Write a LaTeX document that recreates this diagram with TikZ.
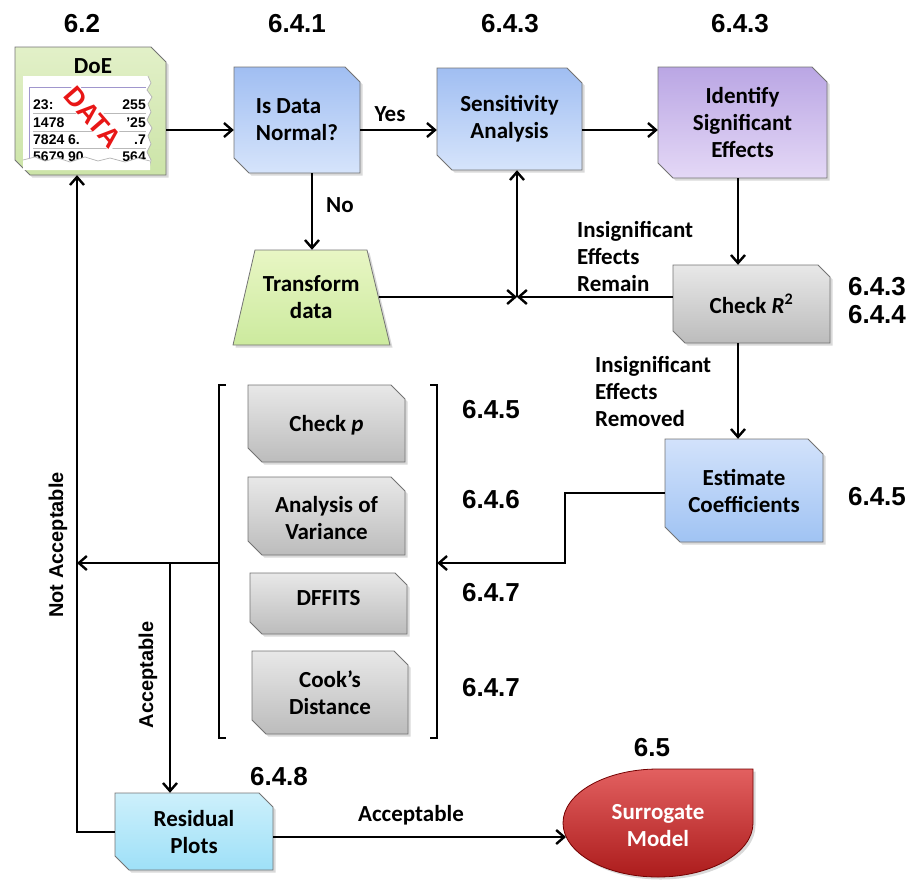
\documentclass[tikz,border=0pt]{standalone}
\usepackage{fontspec}
\setmainfont{Carlito}
\newfontfamily\numfont{Liberation Sans}
\usetikzlibrary{arrows.meta,shadows,calc}

\definecolor{bluetop}{RGB}{160,190,242}
\definecolor{bluebot}{RGB}{214,228,251}
\definecolor{esttop}{RGB}{210,226,251}
\definecolor{estbot}{RGB}{160,195,243}
\definecolor{purtop}{RGB}{186,166,228}
\definecolor{purbot}{RGB}{228,216,246}
\definecolor{graytop}{RGB}{232,232,232}
\definecolor{graybot}{RGB}{188,188,188}
\definecolor{cyantop}{RGB}{205,240,251}
\definecolor{cyanbot}{RGB}{158,224,248}
\definecolor{greentop}{RGB}{232,246,196}
\definecolor{greenbot}{RGB}{204,234,158}
\definecolor{doetop}{RGB}{226,240,200}
\definecolor{doebot}{RGB}{204,228,168}
\definecolor{surrtop}{RGB}{226,96,96}
\definecolor{surrbot}{RGB}{172,28,28}
\definecolor{datared}{RGB}{232,22,22}
\definecolor{lav}{RGB}{160,150,205}

\tikzset{
  lbl/.style={font=\fontsize{23}{27}\selectfont\bfseries, inner sep=0pt},
  num/.style={font=\numfont\fontsize{26}{30}\selectfont\bfseries, inner sep=0pt},
  side/.style={font=\numfont\fontsize{20}{24}\selectfont\bfseries, inner sep=0pt},
  cell/.style={font=\numfont\fontsize{14}{16}\selectfont\bfseries, inner sep=0pt},
  stamp/.style={font=\numfont\fontsize{27}{27}\selectfont\bfseries, inner sep=1pt, rotate=-49,
    fill=white, text=datared},
  boxtxt/.style={lbl, align=center},
  wire/.style={line width=2.4pt, line join=miter},
  arr/.style={wire, -{Straight Barb[length=8pt,width=14pt]}},
  boxline/.style={draw=black!55, line width=0.8pt},
  shad/.style={drop shadow={shadow xshift=2.5pt, shadow yshift=-2.5pt, opacity=0.3}},
}

% snipped-corner process box:
% #1 node options, #2 x1, #3 y1, #4 x2, #5 y2, #6 top colour, #7 bottom colour, #8 cut, #9 text
\newcommand\snipbox[9]{%
  \path[boxline, shad, top color=#6, bottom color=#7]
    (#2,#3) -- ({#4-#8},#3) -- (#4,{#3+#8}) -- (#4,#5) -- ({#2+#8},#5) -- (#2,{#5-#8}) -- cycle;
  \node[boxtxt, minimum width={(#4-#2)*1pt}, minimum height={(#5-#3)*1pt}, #1]
    at ({(#2+#4)/2},{(#3+#5)/2}) {#9};
}

\begin{document}
\begin{tikzpicture}[x=1pt, y=-1pt]
\useasboundingbox (0,0) rectangle (912,879);

% ---------- DoE ----------
\snipbox{name=doe}{15}{47}{166}{175}{doetop}{doebot}{15}{}
\node[lbl] at (93,66) {DoE};
\fill[white] (23,76) -- (148,76) -- (151,83) -- (147,90) -- (152,97) -- (148,104) -- (151,112)
  -- (147,120) -- (152,128) -- (148,136) -- (151,144) -- (147,152) -- (151,160) -- (149,169)
  -- (23,169) -- cycle;
\draw[gray!60, line width=0.7pt] (148,76) -- (151,83) -- (147,90) -- (152,97) -- (148,104) -- (151,112)
  -- (147,120) -- (152,128) -- (148,136) -- (151,144) -- (147,152) -- (151,160) -- (149,169);
\draw[lav, line width=0.8pt] (29,165) -- (29,87) -- (146,87);
\node[cell, anchor=west] at (33,105) {23:};
\node[cell, anchor=east] at (146,105) {255};
\node[cell, anchor=west] at (33,123) {1478};
\node[cell, anchor=east] at (146,123) {’25};
\node[cell, anchor=west] at (33,140) {7824 6.};
\node[cell, anchor=east] at (146,140) {.7};
\node[cell, anchor=west] at (33,157) {5679 90};
\node[cell, anchor=east] at (146,157) {564};
\foreach \y in {113,131,148} \draw[gray!55, line width=0.6pt] (33,\y) -- (146,\y);
\fill[white] (23,160) -- (35,157) -- (45,161) -- (58,158) -- (70,162) -- (85,157) -- (98,161)
  -- (110,158) -- (125,162) -- (138,158) -- (150,161) -- (150,170) -- (23,170) -- cycle;
\draw[gray!60, line width=0.7pt] (23,160) -- (35,157) -- (45,161) -- (58,158) -- (70,162) -- (85,157)
  -- (98,161) -- (110,158) -- (125,162) -- (138,158) -- (150,161);
\node[stamp] (stampnode) at (93,117) {DATA};

% ---------- process boxes ----------
\snipbox{name=isnorm, align=left}{234}{67}{360}{173}{bluetop}{bluebot}{15}{Is Data\\Normal?}
\snipbox{name=sens}{437}{68}{582}{170}{bluetop}{bluebot}{15}{Sensitivity\\Analysis}
\snipbox{name=ident}{658}{67}{827}{178}{purtop}{purbot}{15}{Identify\\Significant\\Effects}
\snipbox{name=checkr}{673}{265}{830}{343}{graytop}{graybot}{12}{Check \textit{R}\textsuperscript{2}}
\snipbox{name=est}{665}{439}{823}{542}{esttop}{estbot}{15}{Estimate\\Coefficients}
\snipbox{name=checkp, yshift=-2pt}{248}{385}{405}{462}{graytop}{graybot}{14}{Check \textit{p}}
\snipbox{name=anova, yshift=-2pt}{248}{477}{405}{555}{graytop}{graybot}{14}{Analysis of\\Variance}
\snipbox{name=dffits, yshift=5pt}{250}{573}{407}{634}{graytop}{graybot}{12}{DFFITS}
\snipbox{name=cooks}{252}{651}{408}{734}{graytop}{graybot}{14}{Cook’s\\Distance}
\snipbox{name=resid}{115}{793}{273}{870}{cyantop}{cyanbot}{14}{Residual\\Plots}

% transform (trapezoid)
\path[boxline, shad, top color=greentop, bottom color=greenbot]
  (255,250) -- (367,250) -- (390,345) -- (233,345) -- cycle;
\node[boxtxt, minimum width=134.5pt, minimum height=95pt] (trans) at (311.25,297.5) {Transform\\data};

% surrogate model
\path[draw=red!45!black, line width=0.8pt, shad, top color=surrtop, bottom color=surrbot]
  (753,769) -- (658,769) .. controls (606,769) and (563,793) .. (563,823)
  .. controls (563,853) and (606,877) .. (658,877)
  .. controls (710,877) and (753,853) .. (753,823) -- cycle;
\node[boxtxt, text=white, minimum width=190pt, minimum height=108pt] (surr) at (658,826) {Surrogate\\Model};

% diagnostics group with brackets
\node[inner sep=0pt, minimum width=218pt, minimum height=353pt] (grp) at (328,561.5) {};
\draw[wire] ($(grp.north west)+(7,0)$) -- (grp.north west) -- (grp.south west) -- ($(grp.south west)+(7,0)$);
\draw[wire] ($(grp.north east)+(-7,0)$) -- (grp.north east) -- (grp.south east) -- ($(grp.south east)+(-7,0)$);

% ---------- connectors ----------
\coordinate (rowY) at (0,130);
\draw[arr] (doe.east |- rowY) -- (isnorm.west |- rowY);
\draw[arr] (isnorm.east |- rowY) -- (sens.west |- rowY);
\draw[arr] (sens.east |- rowY) -- (ident.west |- rowY);

\coordinate (nox) at (312,0);
\draw[arr] (isnorm.south -| nox) -- (trans.north -| nox);

\coordinate (jn) at (517,297);
\draw[arr] (trans.east |- jn) -- (jn);
\draw[arr] (checkr.west |- jn) -- (jn);
\draw[arr] (jn) -- (sens.south -| jn);

\coordinate (vx) at (738,0);
\draw[arr] (ident.south -| vx) -- (checkr.north -| vx);
\draw[arr] (checkr.south -| vx) -- (est.north -| vx);

\coordinate (e1) at (565,493);
\coordinate (e2) at (565,563);
\draw[arr] (est.west |- e1) -- (e1) -- (e2) -- (grp.east |- e2);

\coordinate (nax) at (77,563);
\coordinate (br) at (170,563);
\draw[arr] (grp.west |- e2) -- (nax);
\draw[arr] (br) -- (resid.north -| br);

\coordinate (r1) at (77,832);
\draw[arr] (resid.west |- r1) -- (r1) -- (doe.south -| r1);

\coordinate (sx) at (566,837);
\draw[arr] (resid.east |- sx) -- (sx);

% ---------- labels ----------
\node[lbl] at (390,114) {Yes};
\node[lbl] at (340,205) {No};
\node[lbl, align=left, anchor=west] at (577,256) {Insignificant\\Effects\\Remain};
\node[lbl, align=left, anchor=west] at (595,391) {Insignificant\\Effects\\Removed};
\node[lbl] at (411,815) {Acceptable};
\node[side, rotate=90] at (148,675) {Acceptable};
\node[side, rotate=90] at (58,545) {Not Acceptable};

\node[num] at (82,24) {6.2};
\node[num] at (297,24) {6.4.1};
\node[num] at (510,24) {6.4.3};
\node[num] at (740,24) {6.4.3};
\node[num] at (877,287) {6.4.3};
\node[num] at (877,315) {6.4.4};
\node[num] at (877,497) {6.4.5};
\node[num] at (491,410) {6.4.5};
\node[num] at (491,500) {6.4.6};
\node[num] at (491,593) {6.4.7};
\node[num] at (491,688) {6.4.7};
\node[num] at (279,777) {6.4.8};
\node[num] at (652,748) {6.5};
\end{tikzpicture}
\end{document}
